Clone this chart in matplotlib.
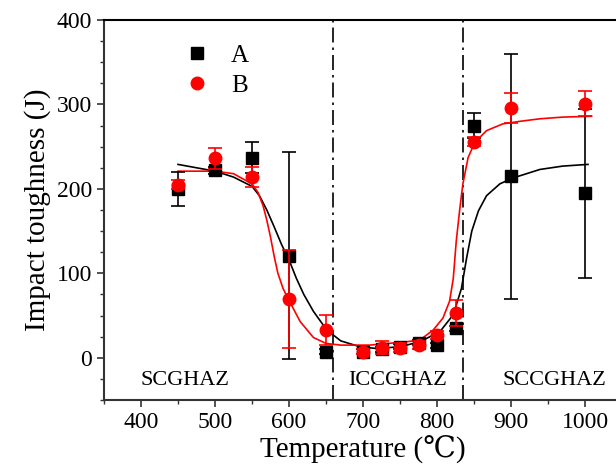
import matplotlib
matplotlib.use("Agg")
import matplotlib.pyplot as plt
from matplotlib.ticker import MultipleLocator
from matplotlib.lines import Line2D

plt.rcParams['font.family'] = ['Liberation Serif', 'DejaVu Serif']

# measured data
temps = [450, 500, 550, 600, 650, 700, 725, 750, 775, 800, 825, 850, 900, 1000]
a_vals = [200, 222, 237, 121, 7, 7, 10, 13, 18, 15, 35, 275, 215, 195]
a_err = [20, 4, 18, 123, 3, 3, 3, 3, 3, 3, 3, 15, 145, 100]
b_vals = [205, 236, 214, 70, 33, 7, 12, 12, 15, 27, 53, 256, 296, 301]
b_err = [5, 13, 12, 58, 18, 3, 8, 5, 5, 5, 15, 5, 18, 15]

# fitted curves
fit_a_t = [450, 475, 500, 525, 550, 560, 570, 580, 590, 600, 610, 620, 633, 651, 670, 696,
           718, 750, 777, 804, 822, 833, 840, 847, 856, 867, 885, 903, 939, 970, 1004]
fit_a_v = [229, 225, 221, 214, 203, 192, 175, 155, 134, 116, 94, 75, 55, 33, 20, 13,
           11, 13, 19, 31, 51, 82, 118, 150, 174, 192, 206, 213, 223, 227, 229]
fit_b_t = [450, 475, 500, 525, 550, 558, 565, 570, 575, 580, 585, 592, 600, 615, 633, 650,
           670, 709, 759, 777, 795, 808, 817, 822, 826, 831, 835, 842, 851, 867, 889, 912,
           939, 970, 1009]
fit_b_v = [221, 221, 221, 218, 206, 196, 180, 163, 143, 120, 100, 82, 68, 43, 24, 17,
           15, 15, 19, 21, 33, 47, 67, 94, 138, 178, 206, 237, 255, 269, 277, 280,
           283, 285, 286]

boundaries = [660, 835]
zones = ["SCGHAZ", "ICCGHAZ", "SCCGHAZ"]
zone_x = [459, 747, 959]

fig = plt.figure(figsize=(6.16, 4.70), dpi=100)
ax = fig.add_axes([104/616, 70/470, 518/616, 380/470])

ax.plot(fit_a_t, fit_a_v, color='black', lw=1.2, zorder=2)
ax.plot(fit_b_t, fit_b_v, color='red', lw=1.2, zorder=2)

ax.errorbar(temps, a_vals, yerr=a_err, fmt='s', color='black', ms=9, capsize=5,
            elinewidth=1.2, capthick=1.2, zorder=3)
ax.errorbar(temps, b_vals, yerr=b_err, fmt='o', color='red', ms=9, capsize=5,
            elinewidth=1.2, capthick=1.2, zorder=4)

for b in boundaries:
    ax.axvline(b, color='black', lw=1.2, linestyle=(0, (9, 3, 1.5, 3)), zorder=1)

for name, x in zip(zones, zone_x):
    ax.text(x, -27, name, ha='center', va='center', fontsize=16)

ax.set_xlim(350, 1050)
ax.set_ylim(-50, 400)
ax.set_xticks([400, 500, 600, 700, 800, 900, 1000])
ax.set_yticks([0, 100, 200, 300, 400])
ax.xaxis.set_minor_locator(MultipleLocator(50))
ax.yaxis.set_minor_locator(MultipleLocator(25))
ax.tick_params(which='major', direction='out', length=5, width=1.2, labelsize=17,
               colors='#333333', labelcolor='black')
ax.tick_params(which='minor', direction='out', length=3, width=1.0, colors='#333333')
for s in ax.spines.values():
    s.set_linewidth(1.5)
    s.set_color('#333333')
ax.spines['top'].set_color('black')

ax.set_xlabel('Temperature (℃)', fontsize=21, labelpad=2)
ax.set_ylabel('Impact toughness (J)', fontsize=21, labelpad=4)

handles = [Line2D([], [], marker='s', color='black', ls='none', ms=9),
           Line2D([], [], marker='o', color='red', ls='none', ms=9)]
ax.legend(handles, ['A', 'B'], loc='upper left', bbox_to_anchor=(0.1, 0.995),
          frameon=False, fontsize=18, handletextpad=0.6, labelspacing=0.3,
          handlelength=1.5)

fig.savefig('out.png', dpi=100)
